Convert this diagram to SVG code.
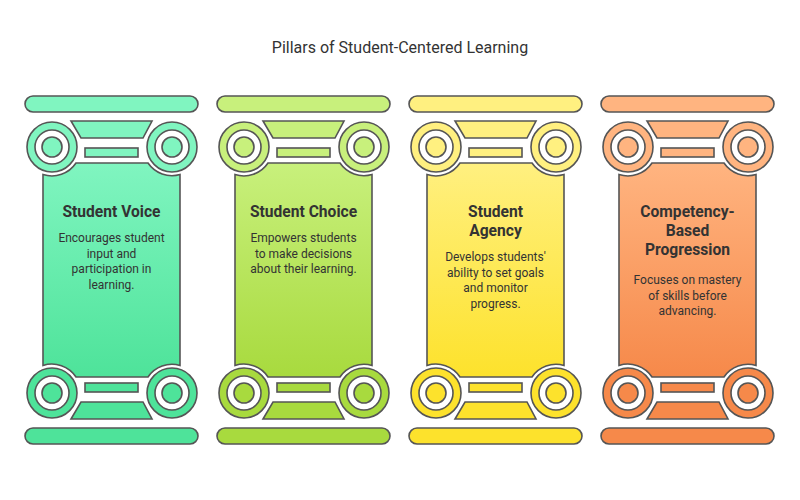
<svg xmlns="http://www.w3.org/2000/svg" xmlns:xlink="http://www.w3.org/1999/xlink" width="800" height="500" viewBox="0 0 800 500">
<style>
.o{stroke:#555;stroke-width:1.6}
.w{fill:#fff}
.t{font-family:Roboto,"Liberation Sans",sans-serif;text-anchor:middle;fill:#333}
.h{font-size:15.6px;font-weight:bold}
.b{font-size:12px}
</style>
<defs>
<g id="cap" class="o">
<rect x="0" y="96" width="173" height="16" rx="8"/>
<polygon points="46,121 127,121 118,138 56,138"/>
<rect x="60" y="148" width="53" height="9"/>
<circle cx="27" cy="147" r="25"/><circle cx="27" cy="147" r="17" class="w"/><circle cx="27" cy="147" r="10"/>
<circle cx="147" cy="147" r="25"/><circle cx="147" cy="147" r="17" class="w"/><circle cx="147" cy="147" r="10"/>
</g>
<path id="body" d="M18,174.5 A29,29 0 0 0 51,163 L123,163 A29,29 0 0 0 155,174.5 L155,365.5 A29,29 0 0 0 123,377 L51,377 A29,29 0 0 0 18,365.5 Z"/>
<linearGradient id="g1" x1="0" y1="0" x2="0" y2="1"><stop offset="0" stop-color="#80f5c0"/><stop offset="1" stop-color="#4ee39a"/></linearGradient>
<linearGradient id="g2" x1="0" y1="0" x2="0" y2="1"><stop offset="0" stop-color="#c8f07c"/><stop offset="1" stop-color="#a8da3e"/></linearGradient>
<linearGradient id="g3" x1="0" y1="0" x2="0" y2="1"><stop offset="0" stop-color="#fff080"/><stop offset="1" stop-color="#fde22c"/></linearGradient>
<linearGradient id="g4" x1="0" y1="0" x2="0" y2="1"><stop offset="0" stop-color="#ffb480"/><stop offset="1" stop-color="#f6894a"/></linearGradient>
</defs>
<rect width="800" height="500" fill="#fff"/>
<text class="t" x="400" y="53" font-size="16">Pillars of Student-Centered Learning</text>
<g id="n1" transform="translate(25,0)">
<use href="#body" fill="url(#g1)" class="o"/>
<use href="#cap" fill="#80f5c0"/>
<use href="#cap" fill="#4ee39a" transform="translate(0,540) scale(1,-1)"/>
<text class="t h" x="86.5" y="217">Student Voice</text>
<text class="t b" x="86.5" y="242">Encourages student</text>
<text class="t b" x="86.5" y="257.5">input and</text>
<text class="t b" x="86.5" y="273">participation in</text>
<text class="t b" x="86.5" y="288.5">learning.</text>
</g>
<g id="n2" transform="translate(217,0)">
<use href="#body" fill="url(#g2)" class="o"/>
<use href="#cap" fill="#c8f07c"/>
<use href="#cap" fill="#a8da3e" transform="translate(0,540) scale(1,-1)"/>
<text class="t h" x="86.5" y="217">Student Choice</text>
<text class="t b" x="86.5" y="242">Empowers students</text>
<text class="t b" x="86.5" y="257.5">to make decisions</text>
<text class="t b" x="86.5" y="273">about their learning.</text>
</g>
<g id="n3" transform="translate(409,0)">
<use href="#body" fill="url(#g3)" class="o"/>
<use href="#cap" fill="#fff080"/>
<use href="#cap" fill="#fde22c" transform="translate(0,540) scale(1,-1)"/>
<text class="t h" x="86.5" y="217">Student</text>
<text class="t h" x="86.5" y="236">Agency</text>
<text class="t b" x="86.5" y="261">Develops students'</text>
<text class="t b" x="86.5" y="276.5">ability to set goals</text>
<text class="t b" x="86.5" y="292">and monitor</text>
<text class="t b" x="86.5" y="307.5">progress.</text>
</g>
<g id="n4" transform="translate(601,0)">
<use href="#body" fill="url(#g4)" class="o"/>
<use href="#cap" fill="#ffb480"/>
<use href="#cap" fill="#f6894a" transform="translate(0,540) scale(1,-1)"/>
<text class="t h" x="86.5" y="217">Competency-</text>
<text class="t h" x="86.5" y="236">Based</text>
<text class="t h" x="86.5" y="255">Progression</text>
<text class="t b" x="86.5" y="284">Focuses on mastery</text>
<text class="t b" x="86.5" y="299.5">of skills before</text>
<text class="t b" x="86.5" y="315">advancing.</text>
</g>
<g id="connectors"/>
</svg>
